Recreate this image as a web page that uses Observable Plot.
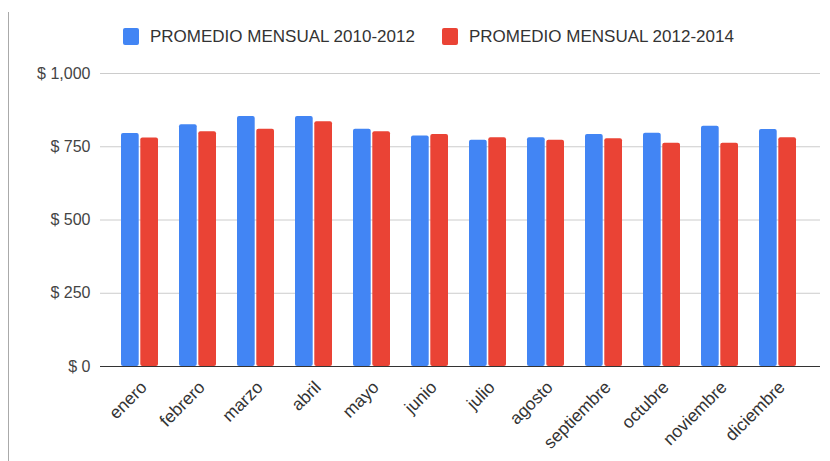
<!DOCTYPE html>
<html>
<head>
<meta charset="utf-8">
<script src="https://cdn.jsdelivr.net/npm/d3@7"></script>
<script src="https://cdn.jsdelivr.net/npm/@observablehq/plot@0.6"></script>
<style>
  html, body { margin: 0; padding: 0; background: #fff; }
  body { width: 830px; height: 461px; position: relative; overflow: hidden; font-family: "Liberation Sans", Arial, sans-serif; }
  #frame { position: absolute; left: 8px; top: 12px; width: 1px; height: 449px; background: #aaa; }
  #legend { height: 55px; position: relative; font-size: 17px; color: #333; }
  .item { position: absolute; top: 28px; display: flex; align-items: center; height: 17px; }
  .sw { width: 16px; height: 17px; border-radius: 2px; margin-right: 11px; }
  #chart svg { display: block; }
</style>
</head>
<body>
<div id="frame"></div>
<div id="legend"></div>
<div id="chart"></div>
<script>
const months = ["enero","febrero","marzo","abril","mayo","junio","julio","agosto","septiembre","octubre","noviembre","diciembre"];
const seriesNames = ["PROMEDIO MENSUAL 2010-2012", "PROMEDIO MENSUAL 2012-2014"];
const seriesColors = ["#4285F4", "#EA4335"];
const promedio2010_2012 = [795, 825, 853, 853, 810, 787, 772, 781, 792, 796, 820, 809];
const promedio2012_2014 = [780, 801, 810, 835, 801, 792, 781, 772, 777, 762, 762, 781];
const yTicks = [0, 250, 500, 750, 1000];

// legend
const legend = document.getElementById("legend");
const legendLefts = [123, 442];
seriesNames.forEach((name, i) => {
  const it = document.createElement("div");
  it.className = "item";
  it.style.left = legendLefts[i] + "px";
  const sw = document.createElement("div");
  sw.className = "sw";
  sw.style.background = seriesColors[i];
  const tx = document.createElement("span");
  tx.textContent = name;
  it.appendChild(sw);
  it.appendChild(tx);
  legend.appendChild(it);
});

const rows = months.map((m, i) => ({month: m, a: promedio2010_2012[i], b: promedio2012_2014[i]}));
const fmt = d => "$ " + d3.format(",")(d);
const half = 19.3;

const chart = Plot.plot({
  width: 830,
  height: 406,
  marginTop: 18,
  marginBottom: 95,
  marginLeft: 100,
  marginRight: 10,
  style: {fontFamily: '"Liberation Sans", Arial, sans-serif', background: "transparent"},
  x: {domain: months, padding: 0.36, align: 0.47, axis: null},
  y: {domain: [0, 1000], axis: null},
  marks: [
    Plot.gridY(yTicks, {stroke: "#cccccc", strokeOpacity: 1}),
    Plot.barY(rows, {x: "month", y: "a", fill: seriesColors[0], insetRight: half, rx: 2}),
    Plot.barY(rows, {x: "month", y: "b", fill: seriesColors[1], insetLeft: half, rx: 2}),
    Plot.ruleY([0], {stroke: "#333333", strokeWidth: 1.2}),
    Plot.axisY({ticks: yTicks, tickFormat: fmt, tickSize: 0, tickPadding: 10, label: null, fontSize: 16, fill: "#444"}),
    Plot.axisX({tickSize: 0, tickRotate: -45, tickPadding: 13, dx: 4, dy: 5, label: null, fontSize: 17.5, fill: "#333"})
  ]
});
document.getElementById("chart").appendChild(chart);
</script>
</body>
</html>
